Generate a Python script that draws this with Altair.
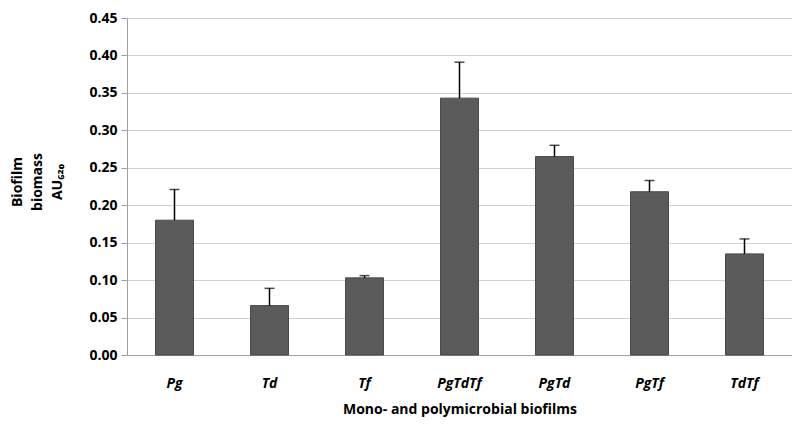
import altair as alt
import pandas as pd

categories = ["Pg", "Td", "Tf", "PgTdTf", "PgTd", "PgTf", "TdTf"]
means = [0.180, 0.066, 0.103, 0.343, 0.265, 0.218, 0.135]
errors = [0.041, 0.023, 0.003, 0.048, 0.015, 0.015, 0.020]
y_ticks = [0.0, 0.05, 0.10, 0.15, 0.20, 0.25, 0.30, 0.35, 0.40, 0.45]
y_title = ["Biofilm", "biomass", "AU₆₂₀"]

df = pd.DataFrame({"cat": categories, "mean": means, "err": errors})
df["top"] = df["mean"] + df["err"]

FONT = "Open Sans"

x = alt.X("cat:N", sort=categories,
          scale=alt.Scale(paddingInner=0.6, paddingOuter=0.3),
          axis=alt.Axis(title="Mono- and polymicrobial biofilms", labelAngle=0,
                        labelFont=FONT, labelFontSize=14, labelFontWeight="bold",
                        labelFontStyle="italic", labelColor="black", labelPadding=21,
                        ticks=False, domainColor="#a0a0a0", titleFont=FONT,
                        titleFontSize=14, titleFontWeight="bold", titlePadding=12,
                        titleColor="black"))
y_axis = alt.Axis(title=None, values=y_ticks,
                  format=".2f", labelFont=FONT, labelFontSize=14, labelFontWeight="bold",
                  labelColor="black", labelPadding=4, tickSize=6, tickColor="#a0a0a0",
                  domainColor="#a0a0a0", gridColor="#d0d0d0", labelOverlap=False)
yscale = alt.Scale(domain=[0, 0.45], nice=False)

bars = alt.Chart(df).mark_bar(color="#5b5b5b", stroke="#4a4a4a", strokeWidth=1).encode(
    x=x, y=alt.Y("mean:Q", scale=yscale, axis=y_axis))
rules = alt.Chart(df).mark_rule(color="black", strokeWidth=1.5).encode(
    x=alt.X("cat:N", sort=categories), y=alt.Y("mean:Q", scale=yscale, axis=y_axis), y2="top:Q")
caps = alt.Chart(df).mark_tick(color="black", thickness=1.5, size=10, orient="horizontal").encode(
    x=alt.X("cat:N", sort=categories), y=alt.Y("top:Q", scale=yscale, axis=y_axis))
title = alt.Chart(pd.DataFrame({"t": [0]})).mark_text(
    text=y_title, angle=270, font=FONT, fontSize=14, fontWeight="bold", color="black",
    align="center", baseline="middle", lineHeight=20).encode(
    x=alt.value(-109), y=alt.value(164))

chart = (bars + rules + caps + title).properties(
    width=665, height=337,
    autosize=alt.AutoSizeParams(type="none"),
    padding={"left": 119, "top": 10, "right": 0, "bottom": 65},
).configure_view(stroke=None).configure_axis(gridWidth=1)

chart.save("out.html", embed_options={"renderer": "svg", "actions": False})
